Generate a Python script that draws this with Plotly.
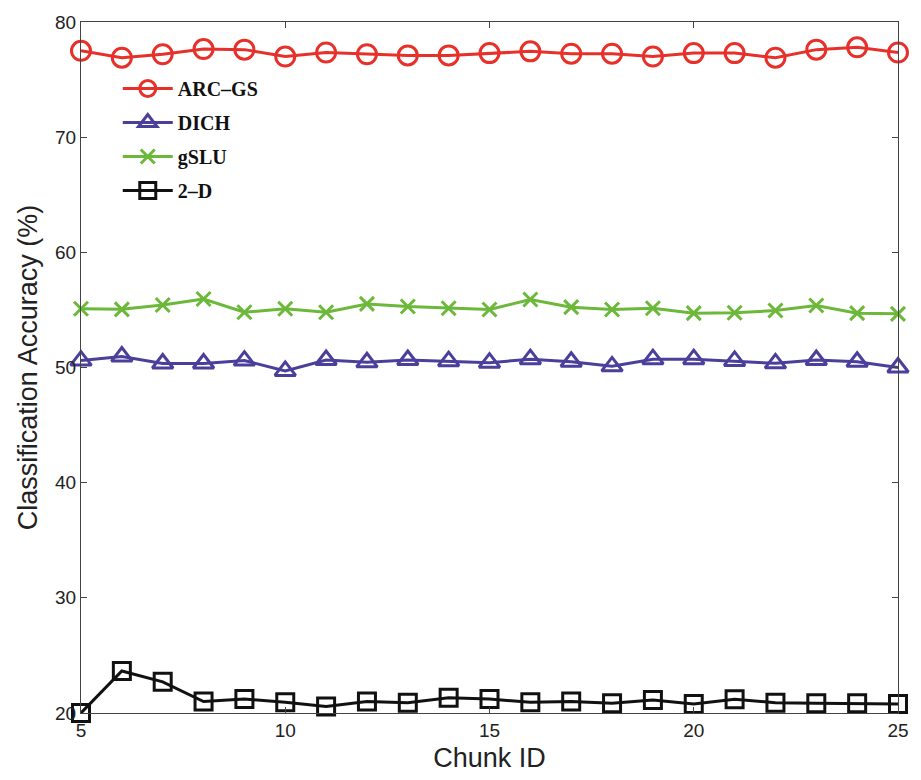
import plotly.graph_objects as go

chunk_ids = list(range(5, 26))

arc_gs = [77.5, 76.9, 77.2, 77.65, 77.6, 77.0, 77.35, 77.2, 77.1, 77.1, 77.3,
          77.45, 77.25, 77.25, 77.0, 77.3, 77.3, 76.9, 77.6, 77.8, 77.35]
dich = [50.6, 50.95, 50.35, 50.35, 50.6, 49.7, 50.65, 50.45, 50.65, 50.55, 50.42,
        50.72, 50.5, 50.1, 50.72, 50.72, 50.57, 50.36, 50.65, 50.5, 50.0]
gslu = [55.1, 55.05, 55.43, 55.95, 54.8, 55.1, 54.8, 55.52, 55.3, 55.15, 55.04,
        55.9, 55.24, 55.04, 55.15, 54.72, 54.75, 54.95, 55.38, 54.72, 54.66]
two_d = [20.0, 23.65, 22.71, 20.99, 21.21, 20.93, 20.56, 20.99, 20.9, 21.33, 21.21,
         20.93, 20.99, 20.84, 21.13, 20.78, 21.19, 20.9, 20.84, 20.84, 20.78]

series_names = ["ARC–GS", "DICH", "gSLU", "2–D"]
series_values = [arc_gs, dich, gslu, two_d]
colors = ["#e8302a", "#4b3f9c", "#6cb83a", "#111111"]
symbols = ["circle-open", "triangle-up-open", "x-thin-open", "square-open"]
sizes = [19, 18, 14, 17]

x_ticks = [5, 10, 15, 20, 25]
y_ticks = [20, 30, 40, 50, 60, 70, 80]

fig = go.Figure()
for name, vals, c, s, sz in zip(series_names, series_values, colors, symbols, sizes):
    fig.add_trace(go.Scatter(
        x=chunk_ids, y=vals, name=f"<b>{name}</b>", mode="lines+markers",
        line=dict(color=c, width=3),
        marker=dict(symbol=s, size=sz, color=c, line=dict(color=c, width=3)),
        cliponaxis=False, legendgroup=name,
    ))

axis_common = dict(
    showline=True, linecolor="#444444", linewidth=1, mirror="ticks",
    ticks="inside", ticklen=6, tickcolor="#444444", showgrid=False, zeroline=False,
    tickfont=dict(family="Liberation Sans, Arial, sans-serif", size=19, color="#222222"),
)

fig.update_xaxes(range=[5, 25], tickvals=x_ticks,
                 title=dict(text="Chunk ID", font=dict(family="Liberation Sans, Arial, sans-serif", size=27, color="#222222"), standoff=8),
                 **axis_common)
fig.update_yaxes(range=[20, 80], tickvals=y_ticks,
                 title=dict(text="Classification Accuracy (%)", font=dict(family="Liberation Sans, Arial, sans-serif", size=27, color="#222222"), standoff=9),
                 **axis_common)

fig.update_layout(
    width=921, height=780,
    margin=dict(l=81, r=15, t=17, b=65),
    plot_bgcolor="white", paper_bgcolor="white",
    showlegend=True,
    legend=dict(x=0.045, y=0.932, xanchor="left", yanchor="top",
                bgcolor="rgba(0,0,0,0)", tracegroupgap=5, itemwidth=50,
                font=dict(family="Liberation Serif, Times New Roman, serif", size=20, color="#111111")),
)

fig.write_html("out.html")
